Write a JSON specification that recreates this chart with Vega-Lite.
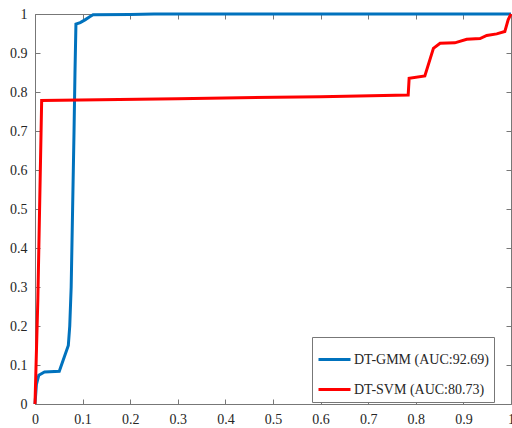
{
  "$schema": "https://vega.github.io/schema/vega-lite/v6.json",
  "autosize": {"type": "none"},
  "width": 476,
  "height": 390,
  "padding": {"left": 35, "top": 14, "right": 1, "bottom": 24},
  "background": "white",
  "config": {
    "view": {"stroke": null},
    "font": "Liberation Serif",
    "axis": {
      "grid": false,
      "domainColor": "#777777",
      "tickColor": "#777777",
      "domainWidth": 1,
      "tickWidth": 1,
      "tickSize": -5,
      "labelFont": "Liberation Serif",
      "labelFontSize": 14,
      "labelColor": "#262626",
      "title": null
    }
  },
  "data": {
    "values": [
      {"model": "DT-GMM (AUC:92.69)", "i": 0, "x": 0, "y": 0},
      {"model": "DT-GMM (AUC:92.69)", "i": 1, "x": 0.003, "y": 0.05},
      {"model": "DT-GMM (AUC:92.69)", "i": 2, "x": 0.008, "y": 0.074},
      {"model": "DT-GMM (AUC:92.69)", "i": 3, "x": 0.02, "y": 0.082},
      {"model": "DT-GMM (AUC:92.69)", "i": 4, "x": 0.051, "y": 0.084},
      {"model": "DT-GMM (AUC:92.69)", "i": 5, "x": 0.07, "y": 0.15},
      {"model": "DT-GMM (AUC:92.69)", "i": 6, "x": 0.073, "y": 0.2},
      {"model": "DT-GMM (AUC:92.69)", "i": 7, "x": 0.076, "y": 0.3},
      {"model": "DT-GMM (AUC:92.69)", "i": 8, "x": 0.079, "y": 0.5},
      {"model": "DT-GMM (AUC:92.69)", "i": 9, "x": 0.082, "y": 0.7},
      {"model": "DT-GMM (AUC:92.69)", "i": 10, "x": 0.084, "y": 0.85},
      {"model": "DT-GMM (AUC:92.69)", "i": 11, "x": 0.086, "y": 0.974},
      {"model": "DT-GMM (AUC:92.69)", "i": 12, "x": 0.095, "y": 0.978},
      {"model": "DT-GMM (AUC:92.69)", "i": 13, "x": 0.105, "y": 0.985},
      {"model": "DT-GMM (AUC:92.69)", "i": 14, "x": 0.115, "y": 0.993},
      {"model": "DT-GMM (AUC:92.69)", "i": 15, "x": 0.122, "y": 0.998},
      {"model": "DT-GMM (AUC:92.69)", "i": 16, "x": 0.2, "y": 0.999},
      {"model": "DT-GMM (AUC:92.69)", "i": 17, "x": 0.25, "y": 1},
      {"model": "DT-GMM (AUC:92.69)", "i": 18, "x": 1, "y": 1},
      {"model": "DT-SVM (AUC:80.73)", "i": 0, "x": 0, "y": 0},
      {"model": "DT-SVM (AUC:80.73)", "i": 1, "x": 0.006, "y": 0.27},
      {"model": "DT-SVM (AUC:80.73)", "i": 2, "x": 0.014, "y": 0.778},
      {"model": "DT-SVM (AUC:80.73)", "i": 3, "x": 0.3, "y": 0.783},
      {"model": "DT-SVM (AUC:80.73)", "i": 4, "x": 0.6, "y": 0.788},
      {"model": "DT-SVM (AUC:80.73)", "i": 5, "x": 0.784, "y": 0.792},
      {"model": "DT-SVM (AUC:80.73)", "i": 6, "x": 0.786, "y": 0.835},
      {"model": "DT-SVM (AUC:80.73)", "i": 7, "x": 0.819, "y": 0.841},
      {"model": "DT-SVM (AUC:80.73)", "i": 8, "x": 0.837, "y": 0.912},
      {"model": "DT-SVM (AUC:80.73)", "i": 9, "x": 0.851, "y": 0.925},
      {"model": "DT-SVM (AUC:80.73)", "i": 10, "x": 0.882, "y": 0.926},
      {"model": "DT-SVM (AUC:80.73)", "i": 11, "x": 0.907, "y": 0.935},
      {"model": "DT-SVM (AUC:80.73)", "i": 12, "x": 0.935, "y": 0.937},
      {"model": "DT-SVM (AUC:80.73)", "i": 13, "x": 0.949, "y": 0.945},
      {"model": "DT-SVM (AUC:80.73)", "i": 14, "x": 0.97, "y": 0.949},
      {"model": "DT-SVM (AUC:80.73)", "i": 15, "x": 0.987, "y": 0.955},
      {"model": "DT-SVM (AUC:80.73)", "i": 16, "x": 0.994, "y": 0.985},
      {"model": "DT-SVM (AUC:80.73)", "i": 17, "x": 1, "y": 1}
    ]
  },
  "layer": [
    {
      "mark": {"type": "line", "strokeWidth": 3, "clip": false},
      "encoding": {
        "x": {"field": "x", "type": "quantitative", "scale": {"domain": [0, 1], "nice": false, "zero": false},
          "axis": {"orient": "bottom", "values": [0, 0.1, 0.2, 0.3, 0.4, 0.5, 0.6, 0.7, 0.8, 0.9, 1], "format": ".1~f", "labelPadding": 13, "labelFlush": false}},
        "y": {"field": "y", "type": "quantitative", "scale": {"domain": [0, 1], "nice": false, "zero": false},
          "axis": {"orient": "left", "values": [0, 0.1, 0.2, 0.3, 0.4, 0.5, 0.6, 0.7, 0.8, 0.9, 1], "format": ".1~f", "labelPadding": 13, "labelFlush": false}},
        "order": {"field": "i", "type": "quantitative"},
        "color": {"field": "model", "type": "nominal",
          "scale": {"domain": ["DT-GMM (AUC:92.69)", "DT-SVM (AUC:80.73)"], "range": ["#0072BD", "#FF0000"]},
          "legend": {
            "title": null, "orient": "none", "legendX": 277, "legendY": 323,
            "direction": "vertical", "columns": 1, "columnPadding": 0,
            "symbolType": "stroke", "symbolSize": 1024, "symbolStrokeWidth": 3,
            "labelFont": "Liberation Serif", "labelFontSize": 14, "labelColor": "#262626",
            "labelOffset": 2, "rowPadding": 5, "padding": 5,
            "strokeColor": "#777777", "fillColor": "white"
          }}
      }
    },
    {
      "mark": {"type": "line", "opacity": 0},
      "encoding": {
        "x": {"field": "x", "type": "quantitative", "axis": {"orient": "top", "values": [0, 0.1, 0.2, 0.3, 0.4, 0.5, 0.6, 0.7, 0.8, 0.9, 1], "labels": false}},
        "y": {"field": "y", "type": "quantitative", "axis": {"orient": "right", "values": [0, 0.1, 0.2, 0.3, 0.4, 0.5, 0.6, 0.7, 0.8, 0.9, 1], "labels": false}},
        "order": {"field": "i", "type": "quantitative"}
      }
    }
  ],
  "resolve": {"axis": {"x": "independent", "y": "independent"}}
}
